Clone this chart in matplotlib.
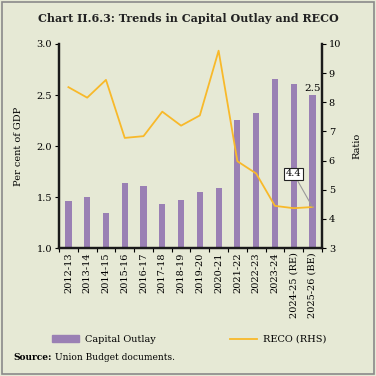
import numpy as np
import matplotlib.pyplot as plt
from matplotlib.patches import Rectangle, Patch
from matplotlib.lines import Line2D

plt.rcParams['font.family'] = ['DejaVu Serif']

# Data
years = ['2012-13', '2013-14', '2014-15', '2015-16', '2016-17', '2017-18',
         '2018-19', '2019-20', '2020-21', '2021-22', '2022-23', '2023-24',
         '2024-25 (RE)', '2025-26 (BE)']
capital_outlay = [1.46, 1.50, 1.34, 1.64, 1.61, 1.43, 1.47, 1.55, 1.59,
                  2.26, 2.32, 2.66, 2.61, 2.50]
reco = [8.52, 8.16, 8.77, 6.78, 6.84, 7.68, 7.20, 7.55, 9.77, 5.98, 5.56,
        4.45, 4.37, 4.41]

bg = '#E6E9D5'
bar_col = '#9A80B4'
line_col = '#F8B92A'

fig = plt.figure(figsize=(3.76, 3.76), dpi=100, facecolor=bg)
fig.patches.append(Rectangle((0.006, 0.006), 0.988, 0.988, transform=fig.transFigure,
                             fill=False, edgecolor='#8a8a8a', linewidth=1.2))

ax = fig.add_axes([0.157, 0.340, 0.699, 0.543])
ax.set_facecolor(bg)
x = np.arange(len(years))
ax.bar(x, capital_outlay, width=0.33, color=bar_col, zorder=2)
ax.set_ylim(1.0, 3.0)
ax.set_yticks([1.0, 1.5, 2.0, 2.5, 3.0])
ax.set_yticklabels(['1.0', '1.5', '2.0', '2.5', '3.0'])
ax.set_xlim(-0.5, len(years) - 0.5)
ax.set_ylabel('Per cent of GDP', fontsize=7, labelpad=10)

# ticks at category boundaries, labels at centres
ax.set_xticks(np.arange(len(years) + 1) - 0.5)
ax.set_xticklabels([])
ax.set_xticks(x, minor=True)
ax.set_xticklabels(years, minor=True, rotation=90, fontsize=7)
ax.tick_params(axis='x', which='minor', length=0, pad=3)
ax.tick_params(axis='x', which='major', length=3, width=0.8)
ax.tick_params(axis='y', labelsize=7, length=3, width=0.8, pad=2)

ax2 = ax.twinx()
ax2.plot(x, reco, color=line_col, linewidth=1.3, zorder=3)
ax2.set_ylim(3, 10)
ax2.set_yticks(range(3, 11))
ax2.tick_params(axis='y', labelsize=7, length=3, width=0.8, pad=2)
ax2.set_ylabel('Ratio', fontsize=7, labelpad=8)

for a in (ax, ax2):
    a.spines['top'].set_visible(False)
    for s in ('left', 'right', 'bottom'):
        a.spines[s].set_linewidth(1.6)
        a.spines[s].set_color('#1a1a1a')

# annotations
ax.text(x[-1], capital_outlay[-1] + 0.02, '2.5', ha='center', va='bottom', fontsize=7.5)
ax2.annotate('4.4', xy=(x[-1], reco[-1]), xytext=(x[-1] - 1.0, 5.55),
             ha='center', va='center', fontsize=7,
             bbox=dict(boxstyle='square,pad=0.15', fc='white', ec='#222222', lw=0.8),
             arrowprops=dict(arrowstyle='-', color='#999999', lw=0.8,
                             shrinkA=0, shrinkB=0))

fig.text(0.5, 0.950, 'Chart II.6.3: Trends in Capital Outlay and RECO',
         ha='center', va='center', fontsize=8, fontweight='bold', color='#222222')

handles = [Patch(color=bar_col), Line2D([], [], color=line_col, lw=1.3)]
fig.legend(handles, ['Capital Outlay', 'RECO (RHS)'], loc='center left',
           bbox_to_anchor=(0.115, 0.097), ncol=2, frameon=False, fontsize=7,
           handlelength=2.8, columnspacing=7.6, handletextpad=0.6)

src = fig.text(0.035, 0.048, 'Source:', fontsize=6.5, fontweight='bold', va='center')
fig.canvas.draw()
bb = src.get_window_extent()
fig.text((bb.x1 + 3) / fig.bbox.width, 0.048, 'Union Budget documents.',
         fontsize=6.5, va='center')

fig.savefig('out.png', dpi=100, facecolor=bg)
